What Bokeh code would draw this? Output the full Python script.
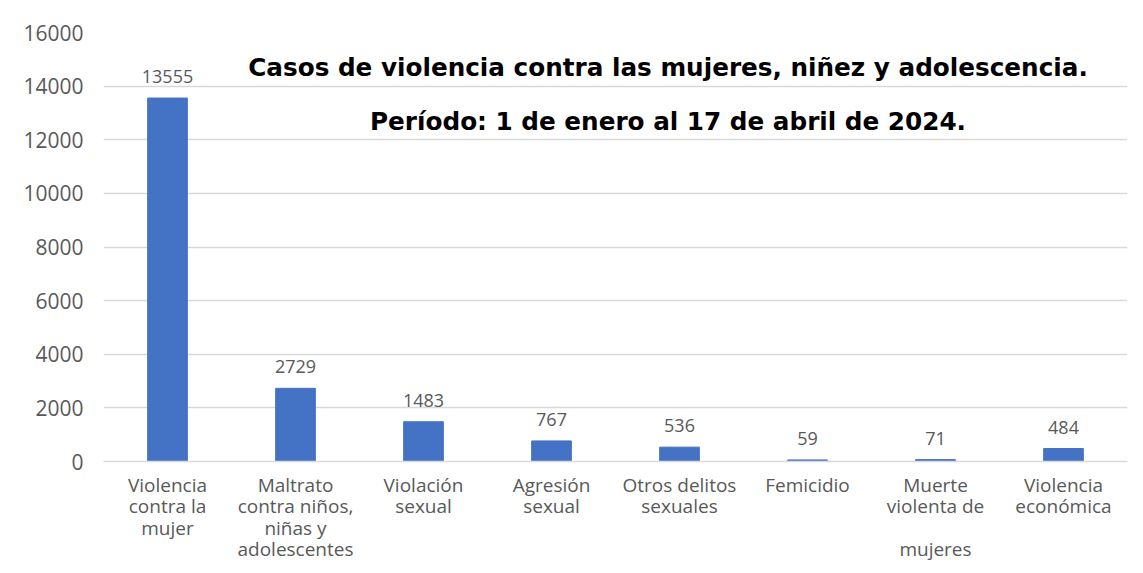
from bokeh.plotting import figure
from bokeh.models import ColumnDataSource, Label, FactorRange, Range1d, FixedTicker
from bokeh.embed import file_html
from bokeh.resources import INLINE

categories = ["Violencia\ncontra la\nmujer", "Maltrato\ncontra niños,\nniñas y\nadolescentes",
              "Violación\nsexual", "Agresión\nsexual", "Otros delitos\nsexuales",
              "Femicidio", "Muerte\nviolenta de\n\nmujeres", "Violencia\neconómica"]
values = [13555, 2729, 1483, 767, 536, 59, 71, 484]
y_ticks = [0, 2000, 4000, 6000, 8000, 10000, 12000, 14000, 16000]
title1 = "Casos de violencia contra las mujeres, niñez y adolescencia."
title2 = "Período: 1 de enero al 17 de abril de 2024."

FONT = "Open Sans"
GREY = "#595959"

src = ColumnDataSource(dict(cat=categories, val=values, lab=[str(v) for v in values]))

p = figure(x_range=FactorRange(*categories, range_padding=0), y_range=Range1d(0, 16000),
           width=1135, height=573, output_backend="svg", toolbar_location=None,
           min_border_left=103, min_border_right=8, min_border_top=32, min_border_bottom=112)
p.outline_line_color = None

p.vbar(x="cat", top="val", width=0.31, source=src, color="#4472C4")
p.text(x="cat", y="val", text="lab", source=src, text_align="center", text_baseline="bottom",
       y_offset=-15, text_font_size="18px", text_color=GREY, text_font={"value": FONT})

p.yaxis.ticker = FixedTicker(ticks=y_ticks)
p.yaxis.axis_line_color = None
p.yaxis.major_tick_line_color = None
p.yaxis.minor_tick_line_color = None
p.yaxis.major_label_text_font_size = "21px"
p.yaxis.major_label_text_color = GREY
p.yaxis.major_label_text_font = FONT
p.yaxis.major_label_standoff = 14

p.xaxis.axis_line_color = "#d9d9d9"
p.xaxis.axis_line_width = 1.5
p.xaxis.major_tick_line_color = None
p.xaxis.minor_tick_line_color = None
p.xaxis.major_label_text_font_size = "19px"
p.xaxis.major_label_text_color = GREY
p.xaxis.major_label_text_font = FONT
p.xaxis.major_label_standoff = 4
p.xaxis.major_label_text_line_height = 0.83

p.xgrid.grid_line_color = None
p.ygrid.grid_line_color = "#d9d9d9"
p.ygrid.grid_line_width = 1.5

p.add_layout(Label(x=4.41, y=14700, text=title1, text_align="center", text_baseline="middle",
                   text_font_size="24.7px", text_font_style="bold", text_color="black",
                   text_font="DejaVu Sans"))
p.add_layout(Label(x=4.41, y=12680, text=title2, text_align="center", text_baseline="middle",
                   text_font_size="24.7px", text_font_style="bold", text_color="black",
                   text_font="DejaVu Sans"))

open("out.html", "w").write(file_html(p, INLINE))
